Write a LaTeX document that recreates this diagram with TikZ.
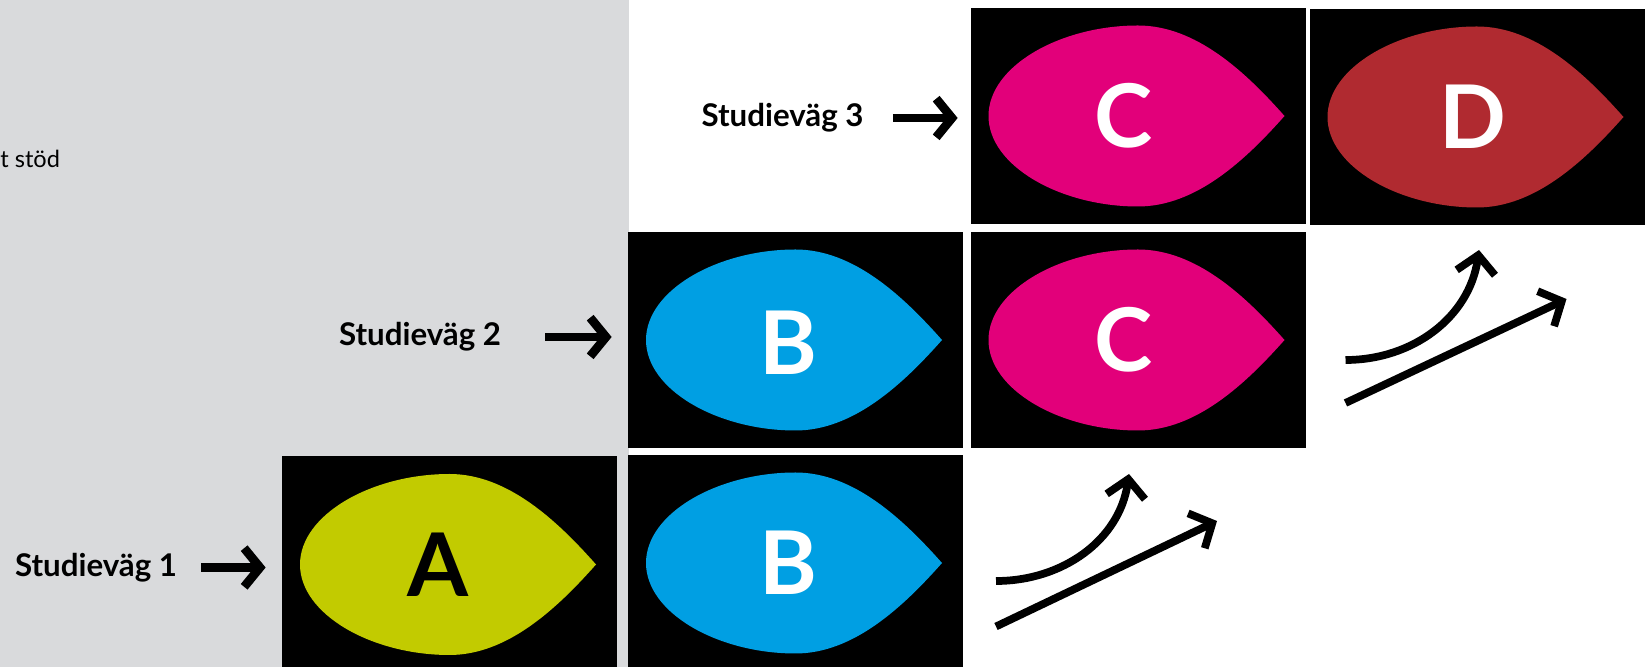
\documentclass[tikz,border=0pt]{standalone}
\usepackage{fontspec}
\setmainfont{Lato}
\usetikzlibrary{arrows.meta}
\definecolor{panelgrey}{HTML}{D9DADC}
\definecolor{dropA}{HTML}{C2CB00}
\definecolor{dropB}{HTML}{009FE3}
\definecolor{dropC}{HTML}{E2007A}
\definecolor{dropD}{HTML}{B02A30}
\tikzset{
  cell/.style={fill=black,minimum width=6.7cm,minimum height=4.32cm,inner sep=0pt},
  letter/.style={font=\fontsize{50}{54}\selectfont\bfseries,inner sep=0pt},
  route/.style={font=\fontsize{17.8}{20}\selectfont\bfseries,inner sep=0pt},
  pointer/.style={line width=5pt,-{Straight Barb[length=9pt,width=22pt,line width=5pt]}},
  rise/.style={line width=4.4pt,-{Straight Barb[length=10pt,width=22pt,line width=4.4pt]}}
}
\begin{document}
\begin{tikzpicture}
  \clip (0,0) rectangle (33.02,13.34);
  \fill[white] (0,0) rectangle (33.02,13.34);
  \fill[panelgrey] (0,0) rectangle (12.57,13.34);
  \node[anchor=west,inner sep=0pt,font=\fontsize{13.4}{16}\selectfont] (cuttext) at (0,10.17) {t stöd};
  % the cells
  \foreach \name/\x/\y/\col/\txt/\ink/\dx/\dy in {
      boxA/8.99/2.05/dropA/A/black/-0.22/0.0,
      boxB/15.91/2.08/dropB/B/white/-0.14/0.0,
      boxBB/15.91/6.54/dropB/B/white/-0.14/-0.06,
      boxC/22.76/6.54/dropC/C/white/-0.28/0.0,
      boxCC/22.76/11.02/dropC/C/white/-0.28/0.0,
      boxD/29.54/11.00/dropD/D/white/-0.08/0.0}{
    \node[cell] (\name) at (\x,\y) {};
    \fill[\col,shift={(\x,\y)}] (-2.99,0)
      .. controls (-2.99,1.0) and (-1.55,1.81) .. (0,1.81)
      .. controls (1.16,1.81) and (2.15,0.88) .. (2.93,0)
      .. controls (2.15,-0.88) and (1.16,-1.81) .. (0,-1.81)
      .. controls (-1.55,-1.81) and (-2.99,-1.0) .. (-2.99,0) -- cycle;
    \node[letter,text=\ink] (letter\name) at (\x+\dx,\y+\dy) {\txt};
  }
  % the routes
  \node[route] (route1) at (1.92,1.99) {Studieväg 1};
  \node[route] (route2) at (8.40,6.60) {Studieväg 2};
  \node[route] (route3) at (15.65,10.98) {Studieväg 3};
  \draw[pointer,shorten <=0.48cm,shorten >=0.32cm] (route1.east) -- (route1.east -| boxA.west);
  \draw[pointer,shorten <=0.88cm,shorten >=0.32cm] (route2.east) -- (route2.east -| boxBB.west);
  \draw[pointer,shorten <=0.58cm,shorten >=0.25cm] (route3.east) -- (route3.east -| boxCC.west);
  % the rising arrows
  \coordinate (curveA) at (19.92,1.72);
  \coordinate (curveAend) at (22.58,3.86);
  \coordinate (lineA) at (19.92,0.81);
  \coordinate (lineAend) at (24.34,2.92);
  \coordinate (curveB) at (26.91,6.14);
  \coordinate (curveBend) at (29.58,8.34);
  \coordinate (lineB) at (26.91,5.28);
  \coordinate (lineBend) at (31.33,7.36);
  \draw[rise] (curveA) to[out=0,in=-98] (curveAend);
  \draw[rise] (lineA) -- (lineAend);
  \draw[rise] (curveB) to[out=0,in=-98] (curveBend);
  \draw[rise] (lineB) -- (lineBend);
\end{tikzpicture}
\end{document}
